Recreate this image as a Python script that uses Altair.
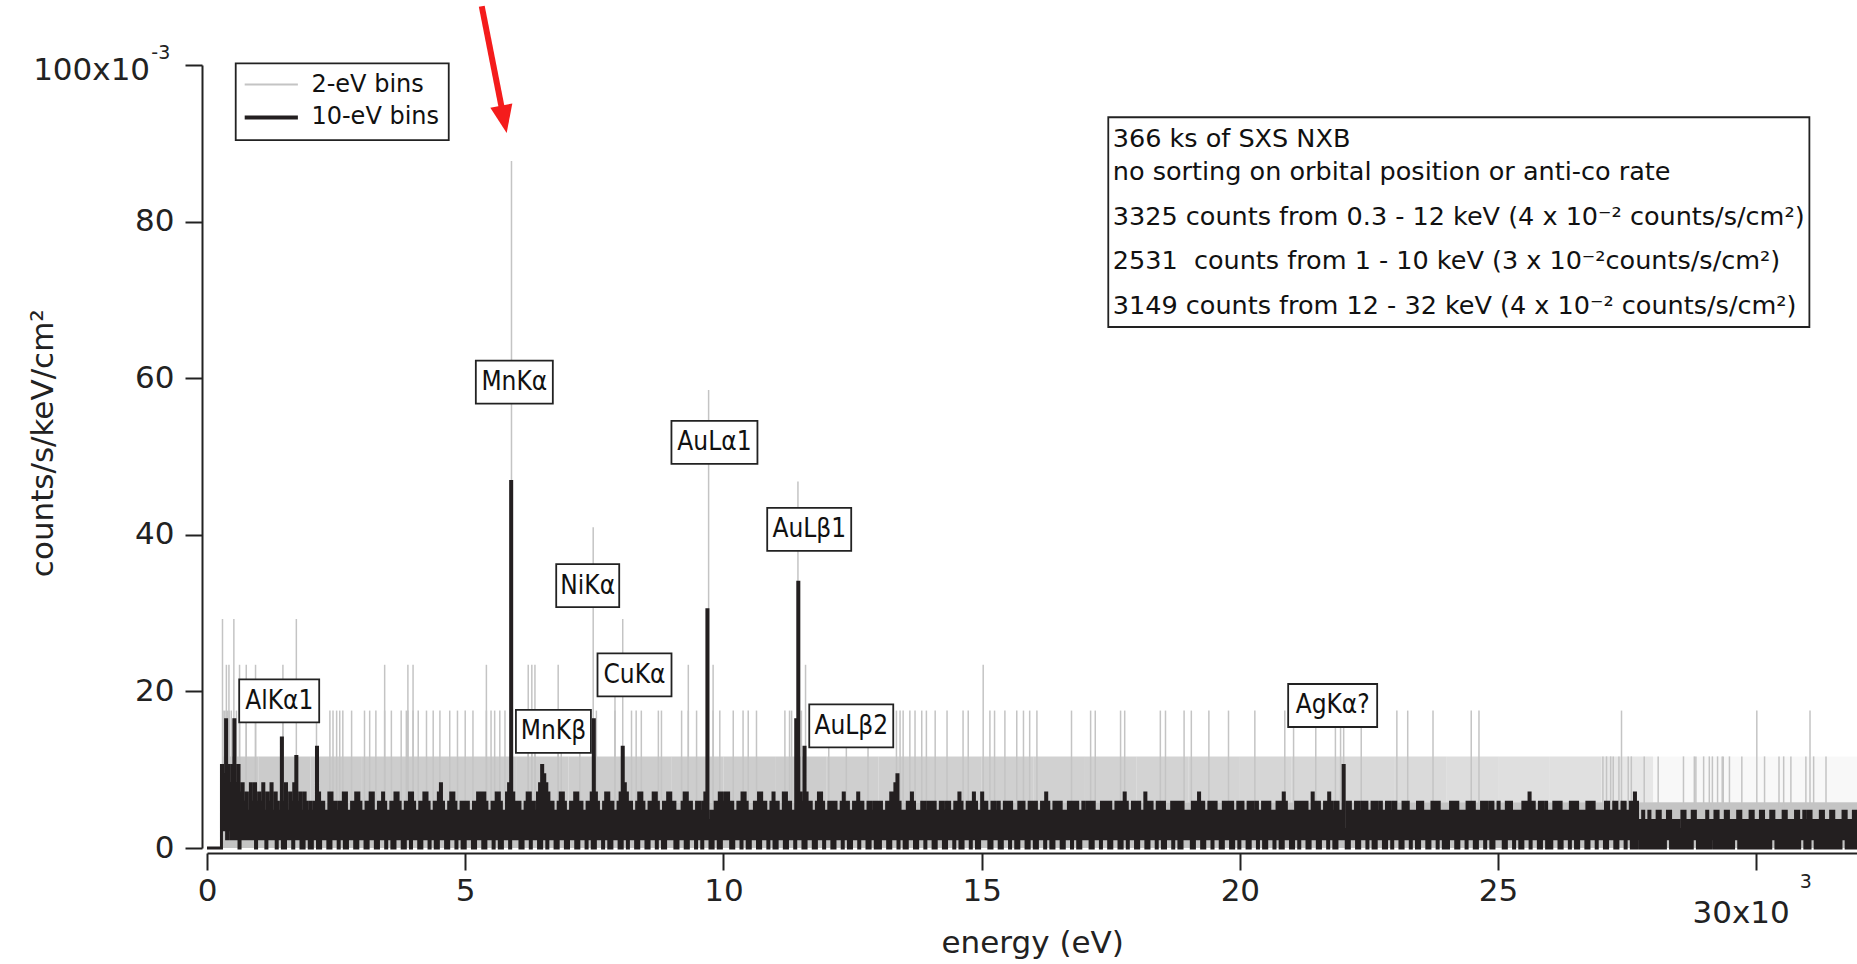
import altair as alt
import pandas as pd

# ------------------------------------------------------------------ data
# unit conversion: plotted value (x1e-3 counts/s/keV/cm^2) per raw count
COUNT_10EV = 1.17
COUNT_2EV = 5.85
STEP_EV = 40  # one character = one 40-eV step of the 10-eV-binned spectrum

# 10-eV spectrum: upper envelope of counts per 40 eV (base-36 digits), one row per keV
black_top_rows = [
    "000000098e979e79675647575",  # 0-1 keV
    "65746574654c574657a564654",  # 1-2
    "545b655446655455664455665",  # 2-3
    "4455664455654455665445566",  # 3-4
    "5445566544556754456654455",  # 4-5
    "5544556666544556654467065",  # 5-6
    "5544566554679876554456654",  # 6-7
    "455665544556e654456655445",  # 7-8
    "6b76554456654455665445566",  # 8-9
    "5544456655445545603445566",  # 9-10
    "5665544556654445566554456",  # 10-11
    "5544665544e065b6554456654",  # 11-12
    "4555544565544556554455455",  # 12-13
    "5544556678544455654445545",  # 13-14
    "5554455455445565445556544",  # 14-15
    "6554455454455554445554455",  # 15-16
    "5544556544555544455555445",  # 16-17
    "4555544455555445555654455",  # 17-18
    "5544655544555544455555544",  # 18-19
    "4455565544555544455555445",  # 19-20
    "5544555454455554445556544",  # 20-21
    "4455555544655544556545544",  # 21-22
    "9255445545554455545445545",  # 22-23
    "5444555444455544445555444",  # 23-24
    "4455554444555544455545544",  # 24-25
    "5444555444445556554455454",  # 25-26
    "4455554444555544445555444",  # 26-27
    "4455445544554455653343343",  # 27-28
    "3344333443333244333443333",  # 28-29
    "3433344333443333443333443",  # 29-30
    "3344333443333443333443343",  # 30-31
    "4433334433344333344333443",  # 31-32
]
# lower envelope of counts per 40 eV
black_bottom_rows = [
    "0000000221211110111111101",
    "1110111101100111011100110",
    "0110011100111011001110011",
    "1001110011101100111001101",
    "1100111011001110011101100",
    "1110011100111011001110111",
    "1001110111001101110011100",
    "1110011101100111011001110",
    "0110111001110011101100111",
    "1001110011101101110011001",
    "1110011101100111001110110",
    "0111001110111001110011101",
    "1100111011001110111001100",
    "0111001110110011100111011",
    "1001110011101100111011001",
    "1110011100111011001110011",
    "0011101100111001110110011",
    "1100111011100111001101110",
    "0111001110110011101100111",
    "1001110011101110011100110",
    "1110011101100111011001110",
    "0110111001110011101100111",
    "1001110011101100111001101",
    "1100111011001110011101100",
    "0111001110111001110110011",
    "1100111011001110111001100",
    "0111001110110011100111011",
    "1001110011101100010000000",
    "0000001100000000000110000",
    "0001000000000011000000000",
    "0000000110000000000001100",
    "0110000000000000110000000",
]
black_peak_energy = [5880, 9680, 11440]   # MnKa, AuLa1, AuLb1
black_peak_counts = [40, 26, 29]

# 2-eV spectrum
gray_base_range = [300, 32000]            # dense 0/1-count region
gray_upper_density = [0.88, 0.88, 0.86, 0.85, 0.85, 0.85, 0.85, 0.85, 0.85, 0.85,
                      0.85, 0.85, 0.82, 0.82, 0.8, 0.8, 0.78, 0.76, 0.75, 0.72,
                      0.7, 0.68, 0.65, 0.62, 0.58, 0.55, 0.52, 0.4, 0.12, 0.12,
                      0.12, 0.12]
gray_c2_sparse = [27030, 27100, 27180, 27230, 27340, 27520, 27580, 27830, 28100,
                  28590, 28800, 28830, 28980, 29090, 29150, 29250, 29340, 29360,
                  29480, 29720, 30160, 30440, 30530, 30670, 30960, 31110, 31350]
gray_c3 = [310, 340, 370, 400, 430, 470, 570, 630, 760, 940, 1470, 2120, 2380,
           2440, 2510, 2570, 2630, 2800, 3050, 3150, 3270, 3440, 3570, 3760,
           3860, 3890, 3990, 4090, 4250, 4380, 4510, 4700, 4850, 5000, 5150,
           5410, 5500, 5570, 5670, 5770, 6220, 6290, 6350, 6800, 6860, 7220,
           7540, 7900, 8220, 8310, 8410, 8740, 8800, 9190, 9320, 9480, 9800,
           9930, 10190, 10380, 10480, 10640, 11190, 11280, 11320, 11510, 12040,
           12380, 12800, 13350, 13420, 13480, 13610, 13710, 13840, 13930, 14100,
           14330, 14640, 14740, 15160, 15250, 15450, 15680, 15810, 15930, 16070,
           16740, 17110, 17200, 17690, 17770, 18460, 18560, 18920, 19060, 19400,
           19780, 20290, 20870, 21040, 21470, 21850, 21950, 22010, 22350, 23040,
           23250, 23740, 24480, 24630, 27390, 30010, 31040]
gray_c4 = [375, 425, 630, 760, 940, 1470, 3440, 3890, 3990, 5410, 6220, 6290,
           6350, 6800, 7900, 9320, 9800, 11590, 15030]
gray_c5 = [300, 520, 1730, 8050]
gray_big_energy = [5896, 7478, 9713, 11443]
gray_big_counts = [15, 7, 10, 8]

line_names = ["AlKα1", "MnKα", "MnKβ", "NiKα", "CuKα", "AuLα1", "AuLβ1", "AuLβ2", "AgKα?"]
line_label_e = [1398, 5951, 6708, 7372, 8278, 9826, 11661, 12475, 21797]
line_label_y = [18.8, 59.5, 14.9, 33.5, 22.1, 51.8, 40.7, 15.6, 18.2]

legend_names = ["2-eV bins", "10-eV bins"]

note_lines = [
    "366 ks of SXS NXB",
    "no sorting on orbital position or anti-co rate",
    "3325 counts from 0.3 - 12 keV (4 x 10⁻² counts/s/cm²)",
    "2531\u00a0 counts from 1 - 10 keV (3 x 10⁻²counts/s/cm²)",
    "3149 counts from 12 - 32 keV (4 x 10⁻² counts/s/cm²)",
]

x_tick_values = [0, 5000, 10000, 15000, 20000, 25000, 30000]
y_tick_values = [0, 20, 40, 60, 80, 100]

# ------------------------------------------------------------------ layout
W, H = 1650, 783
XMAX = 31950
PX_EV = W / XMAX
PX_UNIT = H / 100.0
GRAY = "#c4c4c4"
BLACK = "#231f20"
RED = "#f41c1c"
FONT = "DejaVu Sans"
LFONT = "DejaVu Sans Condensed, DejaVu Sans"


def ex(px):  # pixel (from plot left) -> eV
    return px / PX_EV


def uy(px):  # pixel (up from zero) -> value
    return px / PX_UNIT


x_scale = alt.Scale(domain=[0, XMAX], nice=False, zero=False)
y_scale = alt.Scale(domain=[0, 100], nice=False, zero=False)
x_axis = alt.Axis(values=x_tick_values, title=None, grid=False, offset=5,
                  tickSize=17, tickWidth=2, domainWidth=2, domainColor="#222",
                  tickColor="#222", labelFont=FONT, labelFontSize=31,
                  labelColor="#222", labelPadding=6, labelFlush=False,
                  labelExpr="datum.value == 30000 ? '' : format(datum.value/1000, 'd')")
y_axis = alt.Axis(values=y_tick_values, title=None, grid=False, offset=5,
                  tickSize=17, tickWidth=2, domainWidth=2, domainColor="#222",
                  tickColor="#222", labelFont=FONT, labelFontSize=31,
                  labelColor="#222", labelPadding=11, labelFlush=False,
                  labelExpr="datum.value == 100 ? '' : datum.label")


def X(f):
    return alt.X(f, type="quantitative", scale=x_scale, axis=x_axis)


def Y(f):
    return alt.Y(f, type="quantitative", scale=y_scale, axis=y_axis)


# --- build tables
peak_map = dict(zip(black_peak_energy, black_peak_counts))
bl = []
for r, (trow, brow) in enumerate(zip(black_top_rows, black_bottom_rows)):
    for i, (tc, bc) in enumerate(zip(trow, brow)):
        e = r * 1000 + i * STEP_EV
        top = peak_map.get(e, int(tc, 36))
        bl.append({"e": e, "c": top})
        bl.append({"e": e + STEP_EV // 2, "c": int(bc, 36)})
bl.append({"e": 32000, "c": bl[-1]["c"]})
black_df = pd.DataFrame(bl)
black_df["v"] = black_df["c"] * COUNT_10EV

base_df = pd.DataFrame([{"x": gray_base_range[0], "x2": gray_base_range[1],
                         "y": 0, "y2": COUNT_2EV}])
up_df = pd.DataFrame([{"x": max(k * 1000, gray_base_range[0]), "x2": (k + 1) * 1000,
                       "y": COUNT_2EV, "y2": 2 * COUNT_2EV, "op": d}
                      for k, d in enumerate(gray_upper_density)])
spikes = ([(e, 2) for e in gray_c2_sparse] + [(e, 3) for e in gray_c3] +
          [(e, 4) for e in gray_c4] + [(e, 5) for e in gray_c5] +
          list(zip(gray_big_energy, gray_big_counts)))
spike_df = pd.DataFrame([{"e": e, "y0": 0, "v": c * COUNT_2EV} for e, c in spikes])

box_w_px = [80, 77, 75, 63, 74, 86, 84, 84, 89]
box_h_px = 43
lab_df = pd.DataFrame({"name": line_names, "e": line_label_e, "y": line_label_y})
lab_df["x1"] = lab_df["e"] - [ex(w / 2) for w in box_w_px]
lab_df["x2"] = lab_df["e"] + [ex(w / 2) for w in box_w_px]
lab_df["y1"] = lab_df["y"] - uy(box_h_px / 2)
lab_df["y2"] = lab_df["y"] + uy(box_h_px / 2)

# ------------------------------------------------------------------ layers
base = alt.Chart(base_df).mark_rect(color=GRAY).encode(
    x=X("x"), x2="x2", y=Y("y"), y2="y2")
upper = alt.Chart(up_df).mark_rect(color=GRAY).encode(
    x=X("x"), x2="x2", y=Y("y"), y2="y2", opacity=alt.Opacity("op:Q", scale=None))
gray_lines = alt.Chart(spike_df).mark_rule(color=GRAY, strokeWidth=1.5).encode(
    x=X("e"), y=Y("y0"), y2="v")
black = alt.Chart(black_df).mark_line(interpolate="step-after", color=BLACK,
                                      strokeWidth=3, strokeJoin="miter").encode(
    x=X("e"), y=Y("v"))

lab_box = alt.Chart(lab_df).mark_rect(fill="white", stroke="#222", strokeWidth=1.8).encode(
    x=X("x1"), x2="x2", y=Y("y1"), y2="y2")
lab_txt = alt.Chart(lab_df).mark_text(font=LFONT, fontSize=26, color="#111",
                                      align="center", baseline="middle").encode(
    x=X("e"), y=Y("y"), text="name")

# legend (drawn in data coordinates)
leg_box = alt.Chart(pd.DataFrame([{"x": 556, "x2": 4681, "y": 90.4, "y2": 100.2}])).mark_rect(
    fill="white", stroke="#222", strokeWidth=1.8).encode(x=X("x"), x2="x2", y=Y("y"), y2="y2")
leg_df = pd.DataFrame({"name": legend_names, "y": [97.5, 93.3], "x": [730, 730],
                       "x2": [1760, 1760], "tx": [2022, 2022]})
leg_gray = alt.Chart(leg_df.iloc[[0]]).mark_rule(color=GRAY, strokeWidth=2).encode(
    x=X("x"), x2="x2", y=Y("y"))
leg_black = alt.Chart(leg_df.iloc[[1]]).mark_rule(color=BLACK, strokeWidth=4).encode(
    x=X("x"), x2="x2", y=Y("y"))
leg_txt = alt.Chart(leg_df).mark_text(font=FONT, fontSize=24, color="#111",
                                      align="left", baseline="middle").encode(
    x=X("tx"), y=Y("y"), text="name")

# annotation box
note_box = alt.Chart(pd.DataFrame([{"x": 17452, "x2": 31028, "y": 66.54, "y2": 93.33}])).mark_rect(
    fill="white", stroke="#222", strokeWidth=1.8).encode(x=X("x"), x2="x2", y=Y("y"), y2="y2")
note_df = pd.DataFrame({"t": note_lines, "x": [17539] * 5,
                        "y": [90.6, 86.37, 80.62, 75.02, 69.26]})
note_txt = alt.Chart(note_df).mark_text(font=FONT, fontSize=25.5, color="#111",
                                        align="left", baseline="middle").encode(
    x=X("x"), y=Y("y"), text="t")

# red arrow pointing at the MnKa line
arrow_df = pd.DataFrame([{"x": 5320, "y": 107.5, "x2": 5751, "y2": 93.06}])
arrow = alt.Chart(arrow_df).mark_rule(color=RED, strokeWidth=6).encode(
    x=X("x"), x2="x2", y=Y("y"), y2="y2")
head = alt.Chart(arrow_df).mark_point(shape="M -0.8 -1 L 0.8 -1 L 0 1 Z", filled=True,
                                      color=RED, opacity=1, size=784, angle=349).encode(
    x=X("x2"), y=Y("y2"))

# axis decorations: exponents and titles
deco_df = pd.DataFrame([
    {"t": "100x10", "x": ex(150.4 - 207.3), "y": 99.23, "s": 31, "a": "right"},
    {"t": "-3", "x": ex(151.6 - 207.3), "y": 101.5, "s": 19, "a": "left"},
    {"t": "30x10", "x": ex(1790 - 207.3), "y": -8.47, "s": 31, "a": "right"},
    {"t": "3", "x": ex(1800 - 207.3), "y": -4.38, "s": 19, "a": "left"},
    {"t": "energy (eV)", "x": ex(1033 - 207.3), "y": -12.2, "s": 31, "a": "center"},
])


def deco_layer(al):
    return alt.Chart(deco_df[deco_df.a == al]).mark_text(
        font=FONT, color="#222", baseline="middle", align=al).encode(
        x=X("x"), y=Y("y"), text="t", size=alt.Size("s:Q", scale=None))


deco_r = deco_layer("right")
deco_l = deco_layer("left")
deco_c = deco_layer("center")
ytitle = alt.Chart(pd.DataFrame([{"t": "counts/s/keV/cm²", "x": ex(44 - 207.3), "y": 51.7}])).mark_text(
    font=FONT, fontSize=31, color="#222", baseline="middle", align="center", angle=270).encode(
    x=X("x"), y=Y("y"), text="t")

chart = alt.layer(
    base, upper, gray_lines, black, lab_box, lab_txt,
    leg_box, leg_gray, leg_black, leg_txt, note_box, note_txt,
    arrow, head, deco_r, deco_l, deco_c, ytitle,
).properties(
    width=W, height=H,
    autosize=alt.AutoSizeParams(type="none"),
    padding={"left": 207, "top": 65, "right": 0, "bottom": 116},
    background="white",
).configure_view(stroke=None)

chart.save("out.html", embed_options={"renderer": "svg", "actions": False})
